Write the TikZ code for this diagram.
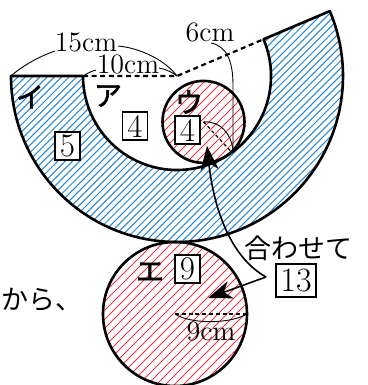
\documentclass[tikz,border=0pt]{standalone}
\usepackage{fontspec}
\newfontfamily\jp{Noto Sans CJK JP}
\newfontfamily\jpb[FakeBold=2]{Noto Sans CJK JP}
\usetikzlibrary{arrows.meta,calc}
\definecolor{hblue}{RGB}{40,135,210}
\definecolor{hred}{RGB}{235,55,65}
\begin{document}
\begin{tikzpicture}[x=0.5pt,y=-0.5pt,
  outline/.style={line width=1.3pt},
  dashout/.style={line width=1.1pt,dash pattern=on 2.5pt off 1.8pt},
  dimline/.style={line width=0.45pt},
  hatchb/.style={hblue,line width=0.5pt},
  hatchr/.style={hred,line width=0.5pt},
  dimtext/.style={font=\fontsize{14}{14}\selectfont,inner sep=0pt},
  numbox/.style={draw,line width=0.6pt,fill=white,font=\fontsize{16.5}{16.5}\selectfont,minimum width=12.5pt,minimum height=14pt,inner sep=0pt},
  kana/.style={font=\jpb\fontsize{14}{14}\selectfont,inner sep=0pt},
  jtext/.style={font=\jp\fontsize{13.5}{13.5}\selectfont,inner sep=0pt},
  arr/.style={line width=0.8pt,-{Stealth[length=12pt,width=9pt,inset=3.5pt]}}]
\useasboundingbox (0,0) rectangle (368,385);
\coordinate (O) at (177,76);
\coordinate (OL) at ($(O)+(180:166)$);
\coordinate (IL) at ($(O)+(180:94)$);
\coordinate (OR) at ($(O)+(-23:166)$);
\coordinate (IR) at ($(O)+(-23:94)$);
\coordinate (U) at ($(O)+(60:53)$);
\coordinate (E) at (175,314);
% hatching
\begin{scope}
\clip (OL) arc[start angle=180,end angle=-23,radius=166] -- (IR) arc[start angle=-23,end angle=180,radius=94] -- cycle;
\foreach \c in {0,7.3,...,760} \draw[hatchb] (\c,0) -- ++(-420,420);
\end{scope}
\begin{scope}
\clip (U) circle[radius=41];
\foreach \c in {250,259,...,420} \draw[hatchr] (\c,0) -- ++(-420,420);
\end{scope}
\begin{scope}
\clip (E) circle[radius=72];
\foreach \c in {370,379,...,610} \draw[hatchr] (\c,0) -- ++(-420,420);
\end{scope}
% outlines
\draw[outline,line join=round] (IL) -- (OL) arc[start angle=180,end angle=-23,radius=166] -- (IR) arc[start angle=-23,end angle=180,radius=94];
\draw[dashout] (IL) -- (O) -- (IR);
\draw[outline] (U) circle[radius=41];
\draw[outline] (E) circle[radius=72];
% dimension lines
\draw[dimline] (OL) .. controls (22,66) and (40,56) .. (55,51);
\draw[dimline] (118,46) .. controls (140,48) and (165,60) .. (O);
\draw[dimline] (IL) .. controls (88,73) and (92,71) .. (96,70);
\draw[dimline] (159,68) .. controls (165,69) and (172,72) .. (O);
\draw[dimline] (211,43) .. controls (226,46) and (233,60) .. (233,85) -- (233,150);
\draw[dimline] (U) .. controls (220,121) and (231,133) .. (233,150);
\draw[line width=0.6pt,dash pattern=on 1.6pt off 1.4pt] (U) -- ($(U)+(47:41)$);
\draw[line width=0.6pt,dash pattern=on 2pt off 1.4pt] (E) -- ($(E)+(0:72)$);
\draw[dimline] (E) .. controls (190,324) and (228,324) .. (245,315);
% texts
\node[dimtext] (l15) at (86,42) {15cm};
\node[dimtext] (l10) at (128,64) {10cm};
\node[dimtext] (l6) at (210,32) {6cm};
\node[dimtext] (l9) at (211,331) {9cm};
\node[kana] (ki) at (30,97) {イ};
\node[kana] (ka) at (108,96) {ア};
\node[kana] (ku) at (189,102) {ウ};
\node[kana] (ke) at (150,272) {エ};
\node[numbox] (b5) at (67.5,146) {5};
\node[numbox] (b4a) at (135,126) {4};
\node[numbox] (b4u) at (187.5,130) {4};
\node[numbox] (b9) at (187.5,269) {9};
\node[numbox,minimum width=20pt,minimum height=16.5pt,font=\fontsize{17}{17}\selectfont] (b13) at (296,280.5) {13};
\node[jtext] (awase) at (298,248) {合わせて};
\node[jtext,anchor=west] (kara) at (1,300) {から、};
% arrows
\coordinate (J) at (266,277);
\coordinate (Ta) at (207,146);
\coordinate (Tb) at (208,298);
\draw[arr] (J) .. controls (232,258) and (214,212) .. (Ta);
\draw[arr] (J) -- (Tb);
\end{tikzpicture}
\end{document}
